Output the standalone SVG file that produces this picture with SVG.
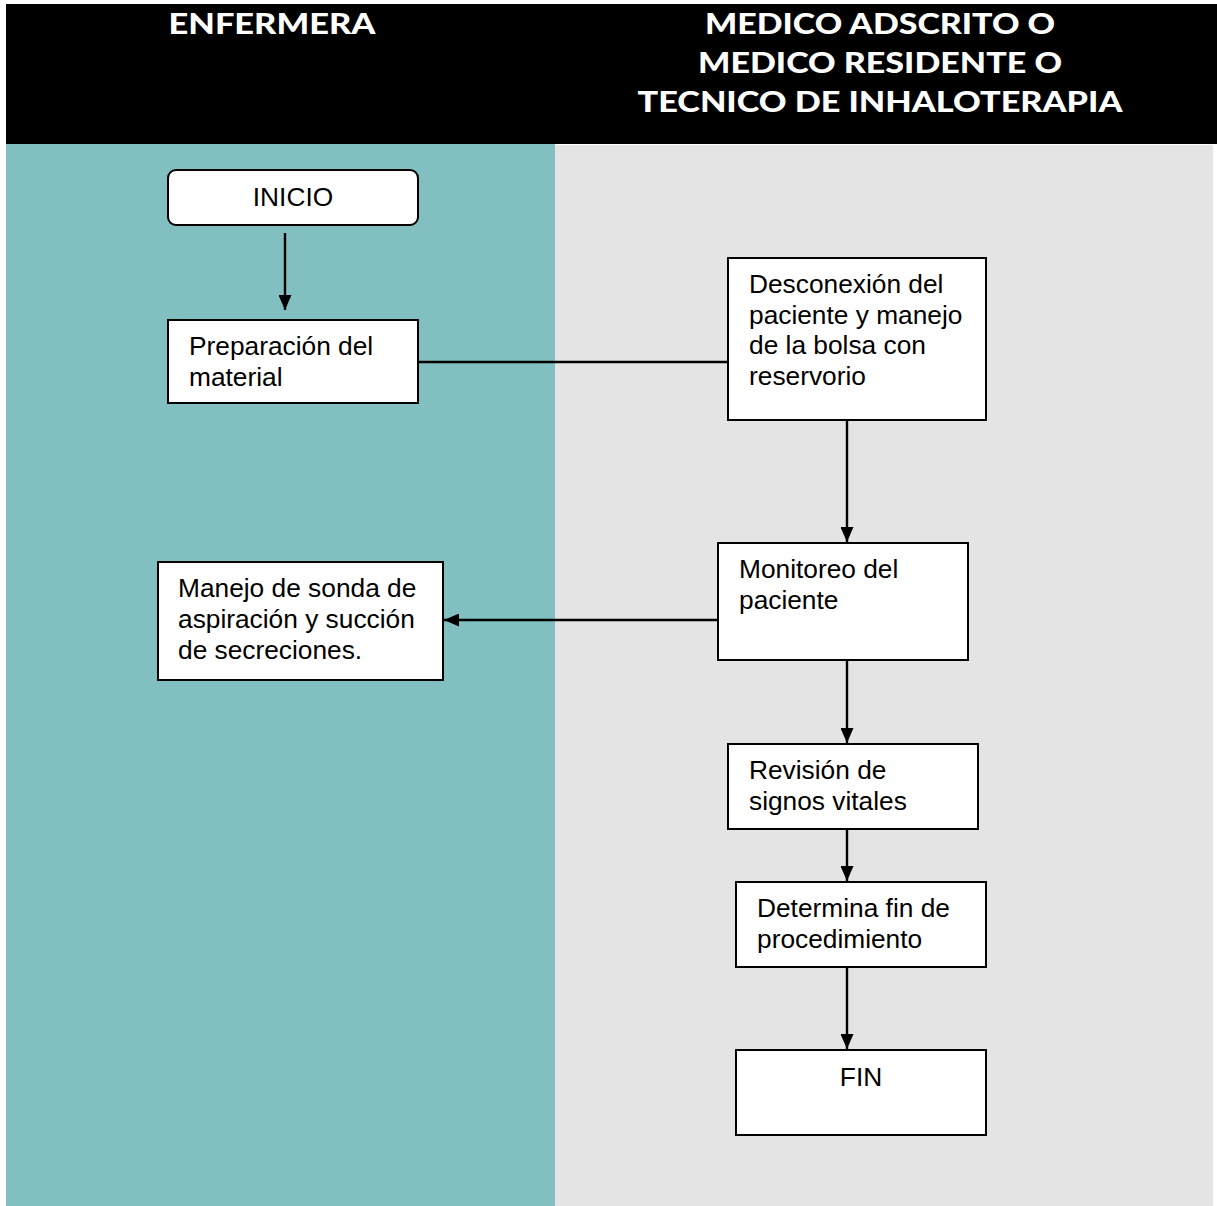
<svg xmlns="http://www.w3.org/2000/svg" width="1217" height="1206" viewBox="0 0 1217 1206">
<defs>
<marker id="ah" viewBox="0 0 15 13" refX="15" refY="6.5" markerWidth="15" markerHeight="13" markerUnits="userSpaceOnUse" orient="auto">
<path d="M0,0 L15,6.5 L0,13 Z" fill="#000"/>
</marker>
<style>
.hdr{font-family:"Lato","Open Sans","DejaVu Sans",sans-serif;font-weight:900;font-size:29px;fill:#fff;text-anchor:middle}
.box{fill:#fff;stroke:#000;stroke-width:2}
.t{font-family:"Liberation Sans",Arial,sans-serif;font-size:26.3px;fill:#000}
.c{text-anchor:middle}
.ln{stroke:#000;stroke-width:2.4;fill:none}
</style>
</defs>
<rect x="0" y="0" width="1217" height="1206" fill="#fff"/>
<rect x="6" y="144" width="549" height="1062" fill="#82bfc0"/>
<rect x="555" y="145" width="658" height="1061" fill="#e4e4e4"/>
<rect x="6" y="4" width="1211" height="140" fill="#000"/>
<g id="headers">
<text class="hdr" x="272" y="34" textLength="207" lengthAdjust="spacingAndGlyphs">ENFERMERA</text>
<text class="hdr" x="880" y="34" textLength="350" lengthAdjust="spacingAndGlyphs">MEDICO ADSCRITO O</text>
<text class="hdr" x="880" y="73" textLength="364" lengthAdjust="spacingAndGlyphs">MEDICO RESIDENTE O</text>
<text class="hdr" x="880" y="112" textLength="485" lengthAdjust="spacingAndGlyphs">TECNICO DE INHALOTERAPIA</text>
</g>
<g id="connectors">
<line class="ln" x1="285" y1="233" x2="285" y2="310" marker-end="url(#ah)"/>
<line class="ln" x1="418" y1="362" x2="728" y2="362"/>
<line class="ln" x1="847" y1="420" x2="847" y2="542" marker-end="url(#ah)"/>
<line class="ln" x1="718" y1="620" x2="444" y2="620" marker-end="url(#ah)"/>
<line class="ln" x1="847" y1="660" x2="847" y2="743" marker-end="url(#ah)"/>
<line class="ln" x1="847" y1="829" x2="847" y2="881" marker-end="url(#ah)"/>
<line class="ln" x1="847" y1="967" x2="847" y2="1049" marker-end="url(#ah)"/>
</g>
<g id="inicio">
<rect class="box" x="168" y="170" width="250" height="55" rx="8"/>
<text class="t c" x="293" y="206">INICIO</text>
</g>
<g id="preparacion">
<rect class="box" x="168" y="320" width="250" height="83"/>
<text class="t" x="189" y="355">Preparación del</text>
<text class="t" x="189" y="386">material</text>
</g>
<g id="desconexion">
<rect class="box" x="728" y="258" width="258" height="162"/>
<text class="t" x="749" y="293">Desconexión del</text>
<text class="t" x="749" y="324">paciente y manejo</text>
<text class="t" x="749" y="354">de la bolsa con</text>
<text class="t" x="749" y="385">reservorio</text>
</g>
<g id="monitoreo">
<rect class="box" x="718" y="543" width="250" height="117"/>
<text class="t" x="739" y="578">Monitoreo del</text>
<text class="t" x="739" y="609">paciente</text>
</g>
<g id="manejo">
<rect class="box" x="158" y="562" width="285" height="118"/>
<text class="t" x="178" y="597">Manejo de sonda de</text>
<text class="t" x="178" y="628">aspiración y succión</text>
<text class="t" x="178" y="659">de secreciones.</text>
</g>
<g id="revision">
<rect class="box" x="728" y="744" width="250" height="85"/>
<text class="t" x="749" y="779">Revisión de</text>
<text class="t" x="749" y="810">signos vitales</text>
</g>
<g id="determina">
<rect class="box" x="736" y="882" width="250" height="85"/>
<text class="t" x="757" y="917">Determina fin de</text>
<text class="t" x="757" y="948">procedimiento</text>
</g>
<g id="fin">
<rect class="box" x="736" y="1050" width="250" height="85"/>
<text class="t c" x="861" y="1086">FIN</text>
</g>
</svg>
